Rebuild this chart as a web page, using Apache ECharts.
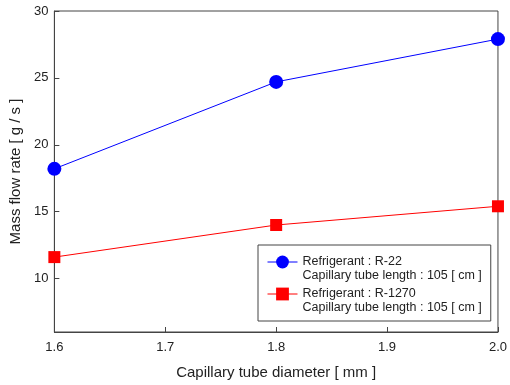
<!DOCTYPE html>
<html>
<head>
<meta charset="utf-8">
<script src="https://cdn.jsdelivr.net/npm/echarts@6/dist/echarts.min.js"></script>
<style>
  html, body { margin: 0; padding: 0; background: #fff; }
  #chart { width: 510px; height: 385px; }
</style>
</head>
<body>
<div id="chart"></div>
<script>
  // values
  const diameters = [1.6, 1.8, 2.0];
  const r22 = [18.2, 24.7, 27.9];
  const r1270 = [11.6, 14.0, 15.4];
  const yTicks = [10, 15, 20, 25, 30];
  const names = [
    "Refrigerant : R-22\nCapillary tube length : 105 [ cm ]",
    "Refrigerant : R-1270\nCapillary tube length : 105 [ cm ]"
  ];

  const font = "Liberation Sans";
  const axisColor = "#444";
  const textColor = "#222";

  const chart = echarts.init(document.getElementById("chart"));
  chart.setOption({
    animation: false,
    textStyle: { fontFamily: font },
    grid: {
      left: 54, right: 10, top: 11, bottom: 53,
      show: true, borderColor: axisColor, borderWidth: 1
    },
    legend: {
      left: 258, top: 245,
      orient: "vertical",
      padding: [-4, 9, 6, 9],
      itemGap: -10,
      itemWidth: 30, itemHeight: 16,
      borderColor: axisColor, borderWidth: 1,
      backgroundColor: "#fff",
      lineStyle: { width: 1 },
      // empty first line keeps the icon level with the first text line
      formatter: name => "{p| }\n" + name,
      textStyle: {
        fontSize: 12.5, color: textColor, lineHeight: 14,
        rich: { p: { fontSize: 12.5, lineHeight: 14 } }
      },
      data: names
    },
    xAxis: {
      type: "value",
      min: 1.6, max: 2.0, interval: 0.1,
      name: "Capillary tube diameter [ mm ]",
      nameLocation: "middle", nameGap: 33,
      nameTextStyle: { fontSize: 15, color: textColor },
      axisLine: { lineStyle: { color: axisColor } },
      axisTick: { inside: true, length: 5, lineStyle: { color: axisColor } },
      axisLabel: { fontSize: 13, color: textColor, margin: 9, formatter: v => v.toFixed(1) },
      splitLine: { show: false }
    },
    yAxis: {
      type: "value",
      min: 6, max: 30,
      name: "Mass flow rate [ g / s ]",
      nameLocation: "middle", nameGap: 31,
      nameTextStyle: { fontSize: 15, color: textColor },
      axisLine: { show: true, lineStyle: { color: axisColor } },
      axisTick: { show: true, inside: true, length: 5, customValues: yTicks, lineStyle: { color: axisColor } },
      axisLabel: { fontSize: 13, color: textColor, margin: 6, customValues: yTicks },
      splitLine: { show: false }
    },
    series: [
      {
        name: names[0],
        type: "line",
        data: diameters.map((d, i) => [d, r22[i]]),
        color: "#0000ff",
        lineStyle: { width: 1 },
        symbol: "circle", symbolSize: 14
      },
      {
        name: names[1],
        type: "line",
        data: diameters.map((d, i) => [d, r1270[i]]),
        color: "#ff0000",
        lineStyle: { width: 1 },
        symbol: "rect", symbolSize: 12
      }
    ]
  });
</script>
</body>
</html>
